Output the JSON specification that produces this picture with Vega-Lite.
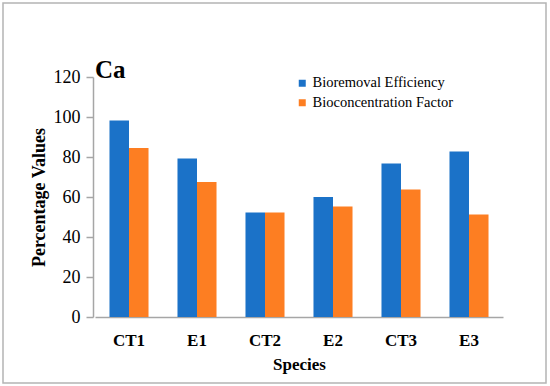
{
  "$schema": "https://vega.github.io/schema/vega-lite/v6.json",
  "width": 543,
  "height": 380,
  "autosize": "none",
  "padding": {"left": 3, "top": 3, "right": 4, "bottom": 3},
  "background": "white",
  "title": {
    "text": "Ca",
    "anchor": "start",
    "frame": "group",
    "font": "Liberation Serif",
    "fontSize": 25,
    "fontWeight": "bold",
    "color": "black",
    "baseline": "alphabetic",
    "offset": 0,
    "dx": 92,
    "dy": 100
  },
  "data": {
    "values": [
      {"species": "CT1", "measure": "Bioremoval Efficiency", "value": 98.3},
      {"species": "CT1", "measure": "Bioconcentration Factor", "value": 84.5},
      {"species": "E1", "measure": "Bioremoval Efficiency", "value": 79.2},
      {"species": "E1", "measure": "Bioconcentration Factor", "value": 67.5},
      {"species": "CT2", "measure": "Bioremoval Efficiency", "value": 52.3},
      {"species": "CT2", "measure": "Bioconcentration Factor", "value": 52.3},
      {"species": "E2", "measure": "Bioremoval Efficiency", "value": 60.0},
      {"species": "E2", "measure": "Bioconcentration Factor", "value": 55.3},
      {"species": "CT3", "measure": "Bioremoval Efficiency", "value": 76.7},
      {"species": "CT3", "measure": "Bioconcentration Factor", "value": 63.8},
      {"species": "E3", "measure": "Bioremoval Efficiency", "value": 82.8},
      {"species": "E3", "measure": "Bioconcentration Factor", "value": 51.3}
    ]
  },
  "mark": {"type": "bar"},
  "encoding": {
    "x": {
      "field": "species",
      "type": "nominal",
      "sort": ["CT1", "E1", "CT2", "E2", "CT3", "E3"],
      "scale": {"range": [92, 500], "paddingInner": 0.426, "paddingOuter": 0.213},
      "axis": {
        "title": "Species",
        "orient": "bottom",
        "offset": -66,
        "labelAngle": 0,
        "ticks": false,
        "labelFont": "Liberation Serif",
        "labelFontSize": 17,
        "labelFontWeight": "bold",
        "labelColor": "black",
        "labelPadding": 15,
        "titleFont": "Liberation Serif",
        "titleFontSize": 17,
        "titleFontWeight": "bold",
        "titleColor": "black",
        "titlePadding": 8,
        "domainColor": "#a6a6a6",
        "domainWidth": 1.5
      }
    },
    "xOffset": {
      "field": "measure",
      "type": "nominal",
      "sort": ["Bioremoval Efficiency", "Bioconcentration Factor"],
      "scale": {"paddingInner": 0, "paddingOuter": 0}
    },
    "y": {
      "field": "value",
      "type": "quantitative",
      "scale": {"domain": [0, 120], "range": [314, 74], "nice": false},
      "axis": {
        "title": "Percentage Values",
        "orient": "left",
        "offset": -90,
        "values": [0, 20, 40, 60, 80, 100, 120],
        "grid": false,
        "tickSize": 7,
        "tickColor": "#a6a6a6",
        "tickWidth": 1.5,
        "domainColor": "#a6a6a6",
        "domainWidth": 1.5,
        "labelFont": "Liberation Serif",
        "labelFontSize": 18,
        "labelColor": "black",
        "labelPadding": 6,
        "titleFont": "Liberation Serif",
        "titleFontSize": 18,
        "titleFontWeight": "bold",
        "titleColor": "black",
        "titlePadding": 5
      }
    },
    "color": {
      "field": "measure",
      "type": "nominal",
      "sort": ["Bioremoval Efficiency", "Bioconcentration Factor"],
      "scale": {"range": ["#1b72c8", "#fd7e22"]},
      "legend": {
        "title": null,
        "orient": "none",
        "legendX": 292,
        "legendY": 73,
        "symbolType": "square",
        "symbolSize": 49,
        "symbolStrokeWidth": 0,
        "labelFont": "Liberation Serif",
        "labelFontSize": 14.5,
        "labelColor": "black",
        "labelOffset": 3,
        "rowPadding": 4.5
      }
    }
  },
  "config": {
    "view": {"stroke": "#b4b4b4", "strokeWidth": 1.5}
  }
}
